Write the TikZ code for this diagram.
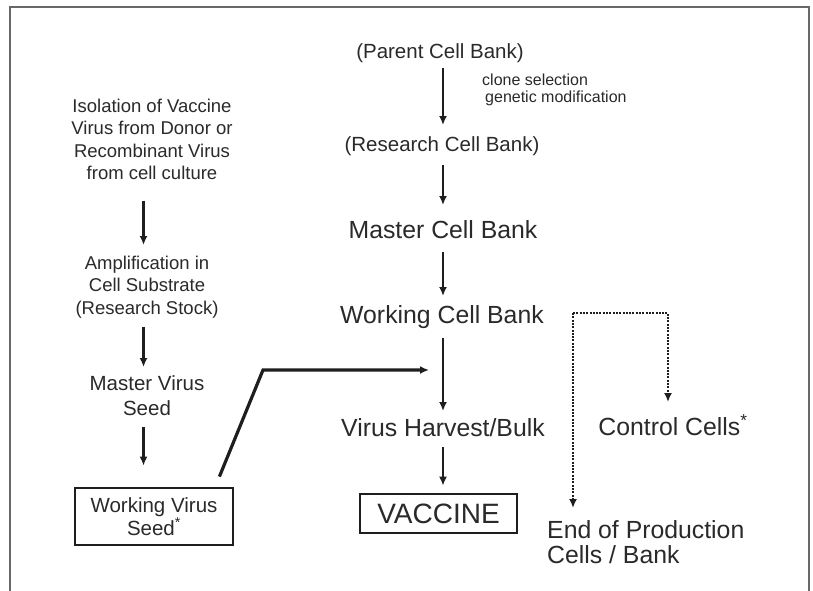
\documentclass[tikz,border=0pt]{standalone}
\usepackage{fontspec}
\setmainfont{Liberation Sans}
\usetikzlibrary{arrows.meta,calc}
\definecolor{ink}{HTML}{2A2A2A}
\definecolor{lineink}{HTML}{1E1E1E}
\definecolor{framegray}{HTML}{686868}
\begin{document}
\begin{tikzpicture}[x=1pt,y=-1pt,
  lbl/.style={text=ink, inner sep=0pt, align=center},
  fsmall/.style={font=\fontsize{16}{18}\selectfont},
  fleft/.style={font=\fontsize{18.5}{22.3}\selectfont},
  fmid/.style={font=\fontsize{20.5}{24}\selectfont},
  fbig/.style={font=\fontsize{24.8}{25}\selectfont},
  fhuge/.style={font=\fontsize{28}{30}\selectfont},
  boxed/.style={draw=lineink, line width=2.8pt, inner sep=0pt},
  arr/.style={draw=lineink, line width=2.4pt, -{Latex[length=9pt,width=8pt]}},
  seedarr/.style={draw=lineink, line width=3.2pt, -{Latex[length=9pt,width=8pt]}},
  dotarr/.style={draw=lineink, line width=2.5pt, dash pattern=on 2pt off 1.3pt, -{Latex[length=9pt,width=8pt]}}
]
\useasboundingbox (0,0) rectangle (813,590);
\fill[white] (0,0) rectangle (813,590);
% frame
\draw[framegray, line width=2pt] (9.5,591) -- (9.5,6.5) -- (809,6.5) -- (809,591);

% column coordinates
\coordinate (ccol) at (443,0);
\coordinate (lcol) at (143.5,0);

% centre column
\node[lbl,fmid] (pcb) at (440,53) {(Parent Cell Bank)};
\node[lbl,fsmall,anchor=west] (clone) at (482,80) {clone selection};
\node[lbl,fsmall,anchor=west] (genmod) at (485,98) {genetic modification};
\node[lbl,fmid] (rcb) at (442,146) {(Research Cell Bank)};
\node[lbl,fbig] (mcb) at (443,230) {Master Cell Bank};
\node[lbl,fbig] (wcb) at (442,317) {Working Cell Bank};
\node[lbl,fbig] (vhb) at (443,428) {Virus Harvest/Bulk};
\node[lbl,fhuge,boxed,minimum width=157pt,minimum height=39pt] (vac) at (438.5,513.5) {VACCINE};

% left column
\node[lbl,fleft] (iso) at (152,139.5) {Isolation of Vaccine\\Virus from Donor or\\Recombinant Virus\\from cell culture};
\node[lbl,fleft] (amp) at (147,287) {Amplification in\\Cell Substrate\\(Research Stock)};
\node[lbl,font=\fontsize{20.5}{25}\selectfont] (mvs) at (147,395.5) {Master Virus\\Seed};
\node[lbl,font=\fontsize{20.5}{23}\selectfont,boxed,minimum width=158pt,minimum height=57pt] (wvs) at (154,516.5) {Working Virus\\Seed\textsuperscript{*}};

% right side
\node[lbl,fbig] (cc) at (673,425) {Control Cells\textsuperscript{*}};
\node[lbl,fbig,align=left,anchor=west] (eop) at (547,542.5) {End of Production\\Cells / Bank};

% centre arrows
\draw[arr] ($(pcb.center -| ccol)+(0,15)$) -- ($(rcb.center -| ccol)+(0,-21)$);
\draw[arr] ($(rcb.center -| ccol)+(0,19)$) -- ($(mcb.center -| ccol)+(0,-25)$);
\draw[arr] ($(mcb.center -| ccol)+(0,22)$) -- ($(wcb.center -| ccol)+(0,-21)$);
\draw[arr] ($(wcb.center -| ccol)+(0,21)$) -- ($(vhb.center -| ccol)+(0,-17)$);
\draw[arr] ($(vhb.center -| ccol)+(0,19)$) -- ($(vac.north -| ccol)+(0,-7)$);

% left arrows
\draw[arr] ($(iso.center -| lcol)+(0,61)$) -- ($(amp.center -| lcol)+(0,-42)$);
\draw[arr] ($(amp.center -| lcol)+(0,40)$) -- ($(mvs.center -| lcol)+(0,-28.5)$);
\draw[arr] ($(mvs.center -| lcol)+(0,31.5)$) -- ($(wvs.north -| lcol)+(0,-21)$);

% seed to production arrow
\coordinate (bend) at (263,370);
\coordinate (join) at (429,370);
\draw[seedarr] ($(wvs.north east)+(-15,-10)$) -- (bend) -- (join);

% dotted branches
\coordinate (dsplit) at (573,313);
\coordinate (dcorner) at (668,313);
\draw[dotarr] (dsplit) -- (dcorner) -- ($(cc.center -| dcorner)+(0,-23)$);
\draw[dotarr] (dsplit) -- ($(eop.center -| dsplit)+(0,-34.5)$);
\end{tikzpicture}
\end{document}
